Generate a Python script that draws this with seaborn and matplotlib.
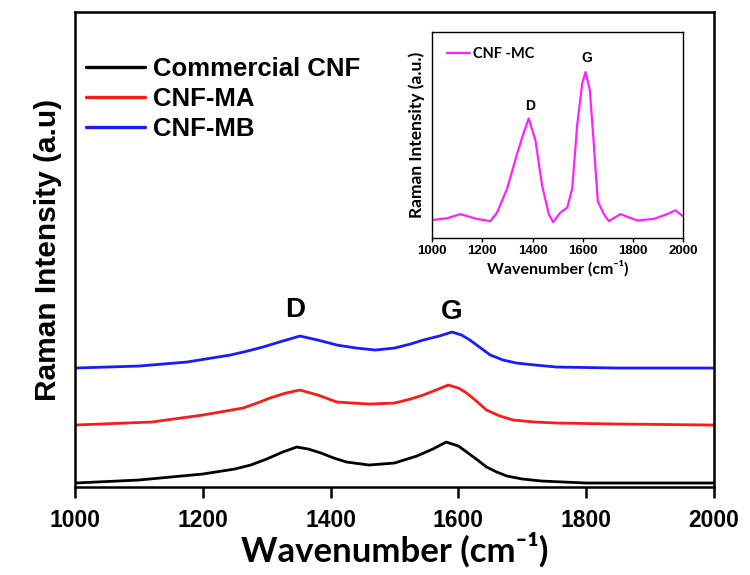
import matplotlib
matplotlib.use("Agg")
import matplotlib.pyplot as plt
import seaborn as sns
import pandas as pd
import numpy as np

sns.set_theme(style="white")
plt.rcParams['font.family'] = ['Liberation Sans', 'DejaVu Sans']
plt.rcParams['text.color'] = 'black'
plt.rcParams['axes.labelcolor'] = 'black'
plt.rcParams['xtick.color'] = 'black'

# main spectra: wavenumber (cm-1) and intensity (a.u.)
wn_cnf = [1000, 1100, 1150, 1200, 1250, 1275, 1300, 1325, 1347, 1365, 1385, 1405,
          1425, 1460, 1500, 1535, 1560, 1581, 1600, 1613, 1630, 1644, 1660, 1676,
          1700, 1730, 1800, 1900, 2000]
int_cnf = [4, 7, 10, 13, 18, 22, 28, 35, 40, 38, 34, 29,
           25, 22, 24, 31, 38, 45, 41, 35, 27, 20, 15, 11,
           8, 6, 4, 4, 4]

wn_ma = [1000, 1120, 1200, 1263, 1285, 1305, 1330, 1352, 1380, 1410, 1435, 1461,
         1500, 1525, 1545, 1565, 1584, 1600, 1613, 1630, 1644, 1665, 1686, 1720,
         1754, 1850, 2000]
int_ma = [62, 65, 72, 79, 84, 89, 94, 97, 92, 85, 84, 83,
          84, 88, 92, 97, 102, 99, 94, 85, 77, 71, 67, 65,
          64, 63, 62]

wn_mb = [1000, 1100, 1175, 1243, 1270, 1294, 1325, 1352, 1380, 1410, 1440, 1470,
         1500, 1525, 1545, 1570, 1590, 1605, 1618, 1635, 1650, 1670, 1691, 1720,
         1754, 1850, 2000]
int_mb = [119, 121, 125, 132, 136, 140, 146, 151, 147, 142, 139, 137,
          139, 143, 147, 151, 155, 152, 147, 139, 132, 127, 124, 122,
          120, 119, 119]

labels = ['Commercial CNF', 'CNF-MA', 'CNF-MB']
colors = ['black', '#ff1a1a', '#1a1aff']

# inset spectrum (CNF-MC)
wn_mc = [1007, 1060, 1113, 1179, 1232, 1259, 1299, 1339, 1365, 1385, 1412, 1438,
         1465, 1482, 1511, 1538, 1558, 1578, 1598, 1611, 1628, 1644, 1660, 1684,
         1704, 1750, 1817, 1883, 1936, 1969, 1996]
int_mc = [57, 62, 75, 60, 53, 80, 155, 265, 330, 375, 305, 165,
          75, 50, 80, 95, 155, 355, 485, 520, 465, 295, 115, 75,
          53, 75, 55, 60, 75, 87, 70]

xticks = [1000, 1200, 1400, 1600, 1800, 2000]

df = pd.concat([
    pd.DataFrame({'Wavenumber': wn_cnf, 'Intensity': int_cnf, 'Sample': labels[0]}),
    pd.DataFrame({'Wavenumber': wn_ma, 'Intensity': int_ma, 'Sample': labels[1]}),
    pd.DataFrame({'Wavenumber': wn_mb, 'Intensity': int_mb, 'Sample': labels[2]}),
], ignore_index=True)
df_mc = pd.DataFrame({'Wavenumber': wn_mc, 'Intensity': int_mc})

fig = plt.figure(figsize=(7.5, 5.75), dpi=100)
ax = fig.add_axes([0.100, 0.153, 0.852, 0.826])

sns.lineplot(data=df, x='Wavenumber', y='Intensity', hue='Sample',
             hue_order=labels, palette=colors, linewidth=2.0, ax=ax)

ax.set_xlim(1000, 2000)
ax.set_ylim(0, 475)
ax.set_xticks(xticks)
ax.set_yticks([])
for lab in ax.get_xticklabels():
    lab.set_fontweight('bold')
ax.tick_params(axis='x', direction='out', length=8, width=1.8,
               labelsize=16.5, pad=8, bottom=True)
for s in ax.spines.values():
    s.set_color('black')
    s.set_linewidth(1.8)

ax.set_xlabel('Wavenumber (cm⁻¹)', fontsize=25, fontweight='bold',
              family=['Lato', 'DejaVu Sans'], labelpad=0)
ax.set_ylabel('Raman Intensity (a.u)', fontsize=21.5, fontweight='bold', labelpad=9)

ax.text(1344, 177, 'D', fontsize=20, fontweight='bold', ha='center', va='center')
ax.text(1590, 175, 'G', fontsize=20, fontweight='bold', ha='center', va='center')

leg = ax.legend(loc='upper left', bbox_to_anchor=(0.017, 0.905), frameon=False,
                fontsize=18.5, handlelength=2.3, handletextpad=0.3,
                labelspacing=0.22, borderpad=0, borderaxespad=0)
for t in leg.get_texts():
    t.set_fontweight('bold')
for h in leg.get_lines():
    h.set_linewidth(2.4)

# inset
axin = fig.add_axes([0.576, 0.586, 0.335, 0.358])
sns.lineplot(data=df_mc, x='Wavenumber', y='Intensity', color='#ff22ff',
             linewidth=1.6, label='CNF -MC', ax=axin)
axin.set_xlim(1000, 2000)
axin.set_ylim(0, 645)
axin.set_xticks(xticks)
axin.set_yticks([])
for lab in axin.get_xticklabels():
    lab.set_fontweight('bold')
axin.tick_params(axis='x', direction='out', length=3, width=1, labelsize=9.5, pad=2,
                 bottom=True)
for s in axin.spines.values():
    s.set_color('black')
    s.set_linewidth(1.0)
axin.set_xlabel('Wavenumber (cm⁻¹)', fontsize=11.5, fontweight='bold', labelpad=2,
                family=['Lato', 'DejaVu Sans'])
axin.set_ylabel('Raman Intensity (a.u.)', fontsize=12.5, fontweight='bold', labelpad=5,
                family=['Lato', 'DejaVu Sans'])
axin.text(1392, 415, 'D', fontsize=10, fontweight='bold', ha='center', va='center')
axin.text(1618, 565, 'G', fontsize=10, fontweight='bold', ha='center', va='center')
lg2 = axin.legend(loc='upper left', bbox_to_anchor=(0.06, 0.93), frameon=False,
                  fontsize=10.5, handlelength=1.6, handletextpad=0.2,
                  borderpad=0, borderaxespad=0)
for t in lg2.get_texts():
    t.set_fontweight('bold')
    t.set_family(['Lato', 'DejaVu Sans'])

fig.savefig('out.png', dpi=100, facecolor='white')
